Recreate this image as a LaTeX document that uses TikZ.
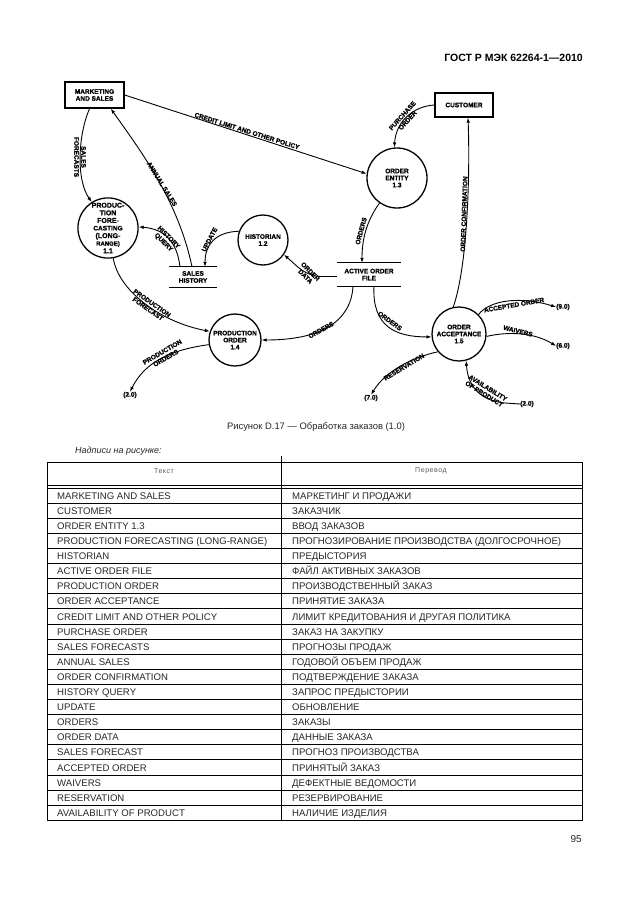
\documentclass[tikz,border=0pt]{standalone}
\usepackage{fontspec}
\setmainfont{Liberation Sans}
\newfontfamily\dgfont[FakeBold=1.2]{Liberation Sans Bold}
\usetikzlibrary{arrows.meta,calc}
\begin{document}
\begin{tikzpicture}[x=1pt,y=-1pt,
  dfont/.style={font=\fontsize{6.5}{7}\dgfont},
  lab/.style={dfont, inner sep=0pt, align=center},
  proc/.style={circle, draw, line width=1.3pt, inner sep=0pt, dfont, align=center},
  ext/.style={rectangle, draw, line width=1.3pt, inner sep=0pt, dfont, align=center},
  store/.style={inner sep=0pt, dfont, align=center},
  storeline/.style={line width=1.3pt},
  flow/.style={line width=0.9pt, -{Latex[length=5pt,width=3.6pt]}},
  ttext/.style={font=\fontsize{9.6}{11}\selectfont, text=black!85, inner sep=0pt},
  thead/.style={font=\fontsize{7}{8}\selectfont\addfontfeatures{LetterSpace=8}, text=black!65, inner sep=0pt},
  tline/.style={line width=0.7pt}
]
\useasboundingbox (0,0) rectangle (630,913);

% page header
\node[anchor=base east, font=\fontsize{10.5}{12}\selectfont\bfseries, inner sep=0pt] (hdr) at (583,61) {ГОСТ Р МЭК 62264-1—2010};

% external entities, processes, stores
\node[ext, minimum width=59, minimum height=26] (mk) at (94.5,95) {MARKETING\\AND SALES};
\node[ext, minimum width=58, minimum height=24] (cu) at (464,105) {CUSTOMER};
\node[proc, minimum size=60] (oe) at (397,178) {ORDER\\ENTITY\\1.3};
\node[proc, minimum size=60, font=\fontsize{7}{7.6}\dgfont] (pf) at (108,228) {PRODUC-\\TION\\FORE-\\{\fontsize{6.5}{7.6}\selectfont CASTING}\\(LONG-\\{\fontsize{6}{7.6}\selectfont RANGE)}\\1.1};
\node[proc, minimum size=50] (hi) at (263,240) {HISTORIAN\\1.2};
\node[store, minimum width=48, minimum height=20] (sh) at (193,277) {SALES\\HISTORY};
\draw[storeline] (sh.north west) -- (sh.north east);
\draw[storeline] (sh.south west) -- (sh.south east);
\node[store, minimum width=64, minimum height=23] (af) at (369,274.5) {ACTIVE ORDER\\FILE};
\draw[storeline] (af.north west) -- (af.north east);
\draw[storeline] (af.south west) -- (af.south east);
\node[proc, minimum size=52] (po) at (235,340) {PRODUCTION\\ORDER\\1.4};
\node[proc, minimum size=54] (ac) at (459,334) {ORDER\\ACCEPTANCE\\1.5};

% off-page references
\node[lab] (t20a) at (130,395) {(2.0)};
\node[lab] (t70) at (371,398) {(7.0)};
\node[lab] (t90) at (563,307) {(9.0)};
\node[lab] (t60) at (563,346) {(6.0)};
\node[lab] (t20b) at (527,404) {(2.0)};

% flows
\draw[flow] (mk.east) -- (oe.172);
\draw[flow] (mk.250) .. controls (78,135) and (76,180) .. (pf.122);
\draw[flow] ($(sh.north)+(-1,0)$) .. controls (178,200) and (140,150) .. (mk.-40);
\draw[flow] ($(sh.north)+(-13,0)$) .. controls (177,242) and (165,229) .. (pf.2);
\draw[flow] (hi.160) .. controls (215,232) and (205,245) .. ($(sh.north)+(12,0)$);
\draw[flow] ($(af.west)+(0,2)$) -- (322,276.5) .. controls (305,276.5) and (296,265) .. (hi.-35);
\draw[flow] (oe.235) .. controls (366,222) and (362,240) .. ($(af.north)+(-7,0)$);
\draw[flow] ($(af.south)+(-16,0)$) .. controls (351,322) and (320,340) .. (po.east);
\draw[flow] ($(af.south)+(5,0)$) .. controls (372,326) and (395,337) .. (ac.186);
\draw[flow] (ac.102) .. controls (468,265) and (470,170) .. ($(cu.south)+(4,0)$);
\draw[flow] (cu.west) .. controls (415,106) and (396,120) .. (oe.95);
\draw[flow] (pf.-80) .. controls (118,290) and (160,322) .. (po.161);
\draw[flow] (po.190) .. controls (170,350) and (145,362) .. (t20a.north);
\draw[flow] (ac.45) .. controls (490,300) and (520,296) .. (t90.west);
\draw[flow] (ac.-5) .. controls (510,331) and (535,333) .. (t60.west);
\draw[flow] (ac.220) .. controls (410,358) and (385,372) .. (t70.north);
\draw[flow] (t20b.west) -- (505,403) .. controls (482,401) and (468,388) .. (ac.-75);

% flow labels
\node[lab, rotate=-17.5] (l1) at (247,131) {CREDIT LIMIT AND OTHER POLICY};
\node[lab, rotate=-90] (l2) at (80,157) {SALES\\FORECASTS};
\node[lab, rotate=-58] (l3) at (162,184) {ANNUAL SALES};
\node[lab, rotate=-45] (l4) at (166,240) {HISTORY\\QUERY};
\node[lab, rotate=62] (l5) at (209.5,239.5) {UPDATE};
\node[lab, rotate=-45] (l6) at (308,274) {ORDER\\DATA};
\node[lab, rotate=75] (l7) at (361,231) {ORDERS};
\node[lab, rotate=29] (l8) at (321,330) {ORDERS};
\node[lab, rotate=-36] (l9) at (390,321) {ORDERS};
\node[lab, rotate=88] (l10) at (464,214) {ORDER CONFIRMATION};
\node[lab, rotate=48] (l11) at (405,118) {PURCHASE\\ORDER};
\node[lab, rotate=-35] (l12) at (150,306) {PRODUCTION\\FORECAST};
\node[lab, rotate=30] (l13) at (164,355) {PRODUCTION\\ORDERS};
\node[lab, rotate=10] (l14) at (514,305) {ACCEPTED ORDER};
\node[lab, rotate=-14] (l15) at (518,331) {WAIVERS};
\node[lab, rotate=31] (l16) at (404,367) {RESERVATION};
\node[lab, rotate=-32] (l17) at (486,391) {AVAILABILITY\\OF PRODUCT};

% caption
\node[font=\fontsize{9.4}{11}\selectfont, text=black!85, inner sep=0pt] (cap) at (316,427) {Рисунок D.17 — Обработка заказов (1.0)};
\node[anchor=west, font=\fontsize{9}{11}\selectfont\itshape, text=black!85, inner sep=0pt] (nad) at (75,451) {Надписи на рисунке:};

% table
\draw[tline] (47,462) rectangle (582,820.2);
\draw[tline] (281,456) -- (281,820.2);
\draw[tline] (47,485.2) -- (582,485.2);
\draw[tline] (47,488) -- (582,488);
\node[thead] (th1) at (164,471) {Текст};
\node[thead] (th2) at (431,471) {Перевод};
\foreach \k in {1,...,21} \draw[tline] (47,{488+15.1*\k}) -- (582,{488+15.1*\k});
\foreach \a/\b [count=\i from 0] in {
 MARKETING AND SALES/МАРКЕТИНГ И ПРОДАЖИ,
 CUSTOMER/ЗАКАЗЧИК,
 ORDER ENTITY 1.3/ВВОД ЗАКАЗОВ,
 PRODUCTION FORECASTING (LONG-RANGE)/ПРОГНОЗИРОВАНИЕ ПРОИЗВОДСТВА (ДОЛГОСРОЧНОЕ),
 HISTORIAN/ПРЕДЫСТОРИЯ,
 ACTIVE ORDER FILE/ФАЙЛ АКТИВНЫХ ЗАКАЗОВ,
 PRODUCTION ORDER/ПРОИЗВОДСТВЕННЫЙ ЗАКАЗ,
 ORDER ACCEPTANCE/ПРИНЯТИЕ ЗАКАЗА,
 CREDIT LIMIT AND OTHER POLICY/ЛИМИТ КРЕДИТОВАНИЯ И ДРУГАЯ ПОЛИТИКА,
 PURCHASE ORDER/ЗАКАЗ НА ЗАКУПКУ,
 SALES FORECASTS/ПРОГНОЗЫ ПРОДАЖ,
 ANNUAL SALES/ГОДОВОЙ ОБЪЕМ ПРОДАЖ,
 ORDER CONFIRMATION/ПОДТВЕРЖДЕНИЕ ЗАКАЗА,
 HISTORY QUERY/ЗАПРОС ПРЕДЫСТОРИИ,
 UPDATE/ОБНОВЛЕНИЕ,
 ORDERS/ЗАКАЗЫ,
 ORDER DATA/ДАННЫЕ ЗАКАЗА,
 SALES FORECAST/ПРОГНОЗ ПРОИЗВОДСТВА,
 ACCEPTED ORDER/ПРИНЯТЫЙ ЗАКАЗ,
 WAIVERS/ДЕФЕКТНЫЕ ВЕДОМОСТИ,
 RESERVATION/РЕЗЕРВИРОВАНИЕ,
 AVAILABILITY OF PRODUCT/НАЛИЧИЕ ИЗДЕЛИЯ} {
  \node[ttext, anchor=base west] (ra\i) at (57,{488+15.1*\i+11.2}) {\a};
  \node[ttext, anchor=base west] (rb\i) at (292,{488+15.1*\i+11.2}) {\b};
}

% page number
\node[anchor=base east, font=\fontsize{10}{12}\selectfont, text=black!85, inner sep=0pt] (pg) at (582,842) {95};
\end{tikzpicture}
\end{document}
